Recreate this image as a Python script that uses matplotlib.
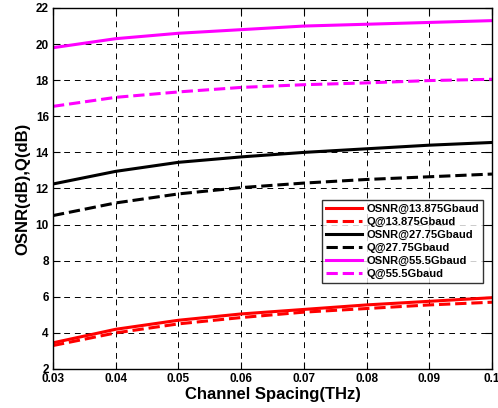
import matplotlib
matplotlib.use("Agg")
import matplotlib.pyplot as plt

plt.rcParams["font.family"] = ["Liberation Sans", "DejaVu Sans"]
plt.rcParams["font.weight"] = "bold"

spacing = [0.03, 0.04, 0.05, 0.06, 0.07, 0.08, 0.09, 0.10]
osnr_13875 = [3.45, 4.2, 4.7, 5.05, 5.3, 5.55, 5.75, 5.95]
q_13875 = [3.3, 4.0, 4.5, 4.85, 5.15, 5.35, 5.55, 5.7]
osnr_2775 = [12.25, 12.95, 13.45, 13.75, 14.0, 14.2, 14.4, 14.55]
q_2775 = [10.5, 11.2, 11.7, 12.05, 12.3, 12.5, 12.65, 12.8]
osnr_555 = [19.8, 20.3, 20.6, 20.8, 21.0, 21.1, 21.2, 21.3]
q_555 = [16.55, 17.05, 17.35, 17.6, 17.75, 17.85, 17.98, 18.05]

fig = plt.figure(figsize=(4.98, 4.08), dpi=100)
ax = fig.add_axes([0.1064, 0.0956, 0.8815, 0.8848])

lw = 2.2
ax.plot(spacing, osnr_13875, "-", color="#ff0000", lw=lw, label="OSNR@13.875Gbaud")
ax.plot(spacing, q_13875, "--", color="#ff0000", lw=lw, label="Q@13.875Gbaud")
ax.plot(spacing, osnr_2775, "-", color="black", lw=lw, label="OSNR@27.75Gbaud")
ax.plot(spacing, q_2775, "--", color="black", lw=lw, label="Q@27.75Gbaud")
ax.plot(spacing, osnr_555, "-", color="#ff00ff", lw=lw, label="OSNR@55.5Gbaud")
ax.plot(spacing, q_555, "--", color="#ff00ff", lw=lw, label="Q@55.5Gbaud")

ax.set_xlim(0.03, 0.1)
ax.set_ylim(2, 22)
ax.set_xticks(spacing)
ax.set_xticklabels(["0.03", "0.04", "0.05", "0.06", "0.07", "0.08", "0.09", "0.1"])
ax.set_yticks(range(2, 23, 2))
ax.tick_params(direction="in", top=True, right=True, labelsize=8.5, length=5, width=0.8, pad=3)
for lab in ax.get_xticklabels() + ax.get_yticklabels():
    lab.set_fontweight("bold")

ax.grid(True, color="black", linestyle=(0, (6, 5)), linewidth=0.7)
for spine in ax.spines.values():
    spine.set_linewidth(1.0)

ax.set_xlabel("Channel Spacing(THz)", fontsize=12, fontweight="bold", labelpad=1)
ax.set_ylabel("OSNR(dB),Q(dB)", fontsize=12, fontweight="bold", labelpad=4)

leg = ax.legend(loc="lower right", bbox_to_anchor=(0.98, 0.238), fontsize=8,
                frameon=True, fancybox=False, handlelength=3.2, handletextpad=0.4,
                borderpad=0.4, labelspacing=0.25, borderaxespad=0)
leg.get_frame().set_edgecolor("black")
leg.get_frame().set_linewidth(1.0)
for t in leg.get_texts():
    t.set_fontweight("bold")

fig.savefig("out.png", dpi=100)
